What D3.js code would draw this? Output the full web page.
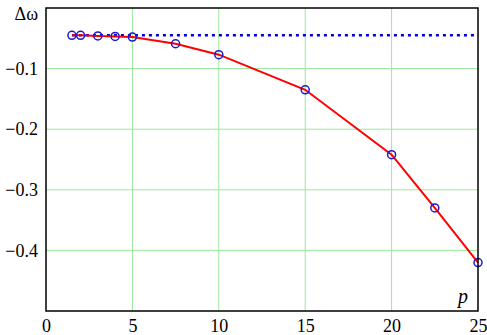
<!DOCTYPE html>
<html>
<head>
<meta charset="utf-8">
<script src="https://cdn.jsdelivr.net/npm/d3@7"></script>
<style>
  body { margin: 0; background: #fff; }
  svg text { font-family: "Liberation Serif", "Times New Roman", "DejaVu Serif", Times, serif !important; }
</style>
</head>
<body>
<div id="chart"></div>
<script>
// data
var pValues = [1.5, 2, 3, 4, 5, 7.5, 10, 15, 20, 22.5, 25];
var dOmega = [-0.045, -0.045, -0.046, -0.047, -0.048, -0.059, -0.077, -0.135, -0.242, -0.330, -0.420];
var refLevel = -0.045;
var xTicks = [0, 5, 10, 15, 20, 25];
var yTicks = [-0.1, -0.2, -0.3, -0.4];

var margin = {top: 8, right: 9, bottom: 24, left: 46},
    width = 487 - margin.left - margin.right,
    height = 335 - margin.top - margin.bottom;

var svg = d3.select("#chart")
  .append("svg")
  .attr("width", 487)
  .attr("height", 335)
  .append("g")
  .attr("transform", "translate(" + margin.left + "," + margin.top + ")");

var x = d3.scaleLinear().domain([0, 25]).range([0, width]);
var y = d3.scaleLinear().domain([-0.5, 0]).range([height, 0]);

// grid
svg.selectAll("line.vgrid")
  .data(xTicks.filter(d => d > 0 && d < 25))
  .enter().append("line")
  .attr("x1", d => x(d)).attr("x2", d => x(d))
  .attr("y1", 0).attr("y2", height)
  .attr("stroke", "#9be89b").attr("stroke-width", 1);

svg.selectAll("line.hgrid")
  .data(yTicks)
  .enter().append("line")
  .attr("x1", 0).attr("x2", width)
  .attr("y1", d => y(d)).attr("y2", d => y(d))
  .attr("stroke", "#9be89b").attr("stroke-width", 1);

// axes (labels only)
var xAxis = svg.append("g")
  .attr("transform", "translate(0," + height + ")")
  .call(d3.axisBottom(x).tickValues(xTicks).tickSize(0).tickPadding(8).tickFormat(d3.format("d")));
xAxis.select(".domain").remove();
xAxis.attr("font-family", null);
xAxis.selectAll("text").attr("font-size", 18).attr("fill", "#000");

var yAxis = svg.append("g")
  .call(d3.axisLeft(y).tickValues(yTicks).tickSize(0).tickPadding(8).tickFormat(d => "\u2212" + Math.abs(d).toFixed(1)));
yAxis.select(".domain").remove();
yAxis.attr("font-family", null);
yAxis.selectAll("text").attr("font-size", 18).attr("fill", "#000");

// reference level (dotted)
svg.append("line")
  .attr("x1", x(pValues[0])).attr("x2", width)
  .attr("y1", y(refLevel)).attr("y2", y(refLevel))
  .attr("stroke", "#0000dd").attr("stroke-width", 2.5)
  .attr("stroke-dasharray", "3,4");

// red curve
var line = d3.line()
  .x((d, i) => x(pValues[i]))
  .y(d => y(d));

svg.append("path")
  .datum(dOmega)
  .attr("d", line)
  .attr("fill", "none")
  .attr("stroke", "#ff0000")
  .attr("stroke-width", 2);

// markers
svg.selectAll("circle.pt")
  .data(dOmega)
  .enter().append("circle")
  .attr("cx", (d, i) => x(pValues[i]))
  .attr("cy", d => y(d))
  .attr("r", 4)
  .attr("fill", "none")
  .attr("stroke", "#1a1acc")
  .attr("stroke-width", 1.5);

// frame
svg.append("rect")
  .attr("width", width).attr("height", height)
  .attr("fill", "none").attr("stroke", "#000").attr("stroke-width", 1.5);

// labels
svg.append("text")
  .attr("x", -8).attr("y", 12)
  .attr("text-anchor", "end")
  .attr("font-size", 18)
  .text("\u0394\u03c9");

svg.append("text")
  .attr("x", width - 20).attr("y", height - 8)
  .attr("font-size", 20)
  .attr("font-style", "italic")
  .text("p");
</script>
</body>
</html>
